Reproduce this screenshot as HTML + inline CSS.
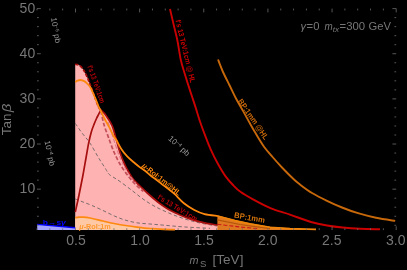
<!DOCTYPE html>
<html><head><meta charset="utf-8"><title>plot</title>
<style>
html,body{margin:0;padding:0;background:#000;}
body{width:407px;height:270px;overflow:hidden;position:relative;font-family:"Liberation Sans",sans-serif;}
svg{position:absolute;left:0;top:0;opacity:0.999;will-change:transform;}
text{font-family:"Liberation Sans",sans-serif;}
</style></head><body>
<svg width="407" height="270" viewBox="0 0 407 270">
<rect width="407" height="270" fill="#000"/>
<!-- fills -->
<path d="M75.2 229.9 L75.2 64.2 C75.6 64.3 76.7 64.3 77.5 64.6 C78.3 64.9 79.0 65.1 80.0 65.9 C81.0 66.7 82.1 67.8 83.2 69.4 C84.3 71.0 85.4 73.3 86.5 75.6 C87.6 77.9 88.7 80.8 89.7 83.4 C90.7 86.0 91.6 88.3 92.6 91.0 C93.6 93.7 94.6 96.7 95.6 99.3 C96.5 101.9 97.5 104.7 98.3 106.5 C99.1 108.3 100.1 109.6 100.5 110.2 C101.7 111.0 103.9 112.6 105.8 115.2 C107.7 117.8 110.4 121.8 112.1 125.7 C113.8 129.6 114.7 134.1 116.0 138.5 C117.3 142.9 118.4 147.7 119.8 151.9 C121.2 156.1 122.7 160.1 124.3 163.7 C125.9 167.3 127.8 170.6 129.4 173.3 C131.0 176.0 132.1 177.9 133.9 180.0 C135.7 182.1 137.7 183.8 140.0 186.0 C142.3 188.2 144.8 190.8 147.8 193.5 C150.8 196.2 154.6 199.5 157.8 202.0 C161.0 204.5 164.1 206.7 167.0 208.5 C169.9 210.3 171.2 211.0 175.0 212.7 C178.8 214.4 184.9 217.2 189.8 218.9 C194.7 220.6 200.0 221.9 204.6 222.9 C209.2 223.9 212.5 224.4 217.6 225.2 C222.7 226.0 227.9 226.9 235.0 227.5 C242.1 228.1 255.8 228.8 260.0 229.0 L260 229.9 L75.2 229.9 Z" fill="#ffb3b3"/>
<path d="M75.2 217.8 C75.8 217.7 77.7 217.3 79.0 217.2 C80.3 217.1 81.2 217.1 83.0 217.2 C84.8 217.3 86.7 217.4 90.0 218.0 C93.3 218.6 99.0 220.1 103.0 221.0 C107.0 221.9 110.2 222.8 114.0 223.5 C117.8 224.2 121.7 224.9 125.5 225.5 C129.3 226.1 132.9 226.6 137.0 227.1 C141.1 227.6 146.2 228.2 150.0 228.5 C153.8 228.8 155.8 229.0 160.0 229.2 C164.2 229.4 172.5 229.6 175.0 229.7 L200 229.9 L75.2 229.9 Z" fill="#ffc9a6"/>
<path d="M217.4,215.2 L235.0,219.9 L250.0,223.2 L270.0,226.7 L290.0,228.3 L316.0,229.9 L217.4,229.9 Z" fill="#e07a22"/>
<path d="M217.4 216.0 L235 220.6 L250 223.9 L270 227.3 L290 228.7 L316 229.4" fill="none" stroke="#f0860c" stroke-width="1.8"/>
<path d="M217.4 219.9 L240 224.5 L270 228.7" fill="none" stroke="#b4560a" stroke-width="1.2"/>
<path d="M217.4 224.2 L240 227 L258.7 228.7" fill="none" stroke="#cc1a1a" stroke-width="1.1" stroke-dasharray="4 2"/>
<path d="M37.2 224.4 L75.2 227.6 L75.2 229.9 L37.2 229.9 Z" fill="#a3a3ff"/>
<!-- gray dashed contours -->
<g fill="none" stroke="#5a5a5a" stroke-width="0.8" stroke-dasharray="3.5 2.5">
<path d="M75.3 123.4 C76.4 125.0 79.6 129.8 82.0 133.0 C84.4 136.2 87.0 138.6 89.8 142.8 C92.6 147.1 96.3 154.1 99.0 158.5 C101.7 162.9 104.4 166.9 106.0 169.5 C107.6 172.1 107.5 172.7 108.7 173.9 C109.9 175.2 111.1 175.7 113.0 177.0 C114.9 178.3 116.8 179.2 120.0 181.5 C123.2 183.8 128.2 187.6 132.0 190.5 C135.8 193.4 139.2 196.3 143.0 199.0 C146.8 201.7 150.5 204.1 155.0 206.5 C159.5 208.9 165.0 211.4 170.0 213.5 C175.0 215.6 180.0 217.4 185.0 219.0 C190.0 220.6 194.7 221.8 200.0 223.0 C205.3 224.2 214.2 225.5 217.0 226.0"/>
<path d="M75.2 199.0 C76.5 199.5 80.2 200.9 83.0 202.0 C85.8 203.1 88.7 204.1 92.0 205.5 C95.3 206.9 99.3 208.8 103.0 210.5 C106.7 212.2 110.7 214.4 114.4 216.0 C118.1 217.6 121.3 218.9 125.0 220.0 C128.7 221.1 132.5 222.1 136.7 222.8 C140.9 223.5 145.3 223.6 150.0 224.0 C154.7 224.4 159.2 224.8 165.0 225.3 C170.8 225.8 177.5 226.5 185.0 227.0 C192.5 227.5 205.8 228.1 210.0 228.3"/>
</g>
<!-- dark red contours -->
<g fill="none" stroke="#a80f0f" stroke-width="1.7">
<path d="M75.2 64.2 C75.6 64.3 76.7 64.3 77.5 64.6 C78.3 64.9 79.0 65.1 80.0 65.9 C81.0 66.7 82.1 67.8 83.2 69.4 C84.3 71.0 85.4 73.3 86.5 75.6 C87.6 77.9 88.7 80.8 89.7 83.4 C90.7 86.0 91.6 88.3 92.6 91.0 C93.6 93.7 94.6 96.7 95.6 99.3 C96.5 101.9 97.5 104.7 98.3 106.5 C99.1 108.3 100.1 109.6 100.5 110.2" stroke-dasharray="3.5 1.5"/>
<path d="M75.3 212.0 C75.9 209.2 77.8 201.0 79.0 195.0 C80.2 189.0 81.6 182.2 82.8 176.0 C84.0 169.8 85.0 163.5 86.0 158.0 C87.0 152.5 87.8 147.1 88.7 142.8 C89.6 138.5 90.4 135.2 91.3 132.0 C92.2 128.8 93.3 126.2 94.2 123.9 C95.1 121.7 95.8 120.1 96.5 118.5 C97.2 116.9 98.0 115.6 98.7 114.2 C99.4 112.8 100.5 110.9 100.9 110.2 C101.7 111.0 103.9 112.6 105.8 115.2 C107.7 117.8 110.4 121.8 112.1 125.7 C113.8 129.6 114.7 134.1 116.0 138.5 C117.3 142.9 118.4 147.7 119.8 151.9 C121.2 156.1 122.7 160.1 124.3 163.7 C125.9 167.3 127.8 170.6 129.4 173.3 C131.0 176.0 132.1 177.9 133.9 180.0 C135.7 182.1 137.7 183.8 140.0 186.0 C142.3 188.2 144.8 190.8 147.8 193.5 C150.8 196.2 154.6 199.5 157.8 202.0 C161.0 204.5 164.1 206.7 167.0 208.5 C169.9 210.3 171.2 211.0 175.0 212.7 C178.8 214.4 184.9 217.2 189.8 218.9 C194.7 220.6 200.0 221.9 204.6 222.9 C209.2 223.9 215.4 224.8 217.6 225.2"/>
<path d="M100.9 111.0 C101.4 113.2 102.7 120.0 103.9 124.3 C105.1 128.6 107.4 134.3 108.3 136.9 C109.2 139.5 108.5 137.5 109.4 140.0 C110.3 142.5 112.2 148.0 113.9 151.9 C115.6 155.8 117.6 159.9 119.8 163.7 C122.0 167.5 124.7 171.4 127.2 174.8 C129.7 178.2 132.3 181.2 135.0 184.0 C137.7 186.8 141.9 190.2 143.3 191.5" stroke="#c4505a" stroke-dasharray="4 2"/>
<path d="M108.0 122.0 C108.5 123.5 110.0 128.0 111.0 131.0 C112.0 134.0 112.7 136.3 113.9 140.0 C115.1 143.7 116.8 149.4 118.3 153.3 C119.8 157.2 121.1 160.2 122.8 163.7 C124.5 167.1 126.5 170.7 128.7 174.0 C130.9 177.3 134.8 181.9 136.0 183.5" stroke="#e07888" stroke-width="1.1" stroke-dasharray="4 2"/>
</g>
<!-- orange -->
<g fill="none" stroke="#ff8a10" stroke-width="1.8">
<path d="M75.2 82.0 C75.6 81.8 76.7 81.0 77.5 80.7 C78.3 80.4 79.3 80.0 80.2 80.0 C81.1 80.0 82.1 80.2 83.0 80.6 C83.9 81.0 84.9 81.5 85.8 82.2 C86.7 82.9 87.8 84.1 88.6 85.0 C89.4 85.9 89.9 86.5 90.6 87.8 C91.3 89.0 91.9 90.5 92.8 92.5 C93.7 94.5 94.8 97.2 95.8 99.5 C96.8 101.8 97.8 104.7 98.6 106.5 C99.4 108.3 99.7 108.6 100.7 110.6 C101.7 112.6 103.0 115.7 104.4 118.5 C105.8 121.3 107.7 124.3 109.2 127.2 C110.7 130.1 112.3 133.8 113.6 136.0 C114.8 138.2 115.4 138.3 116.7 140.5 C118.0 142.7 119.5 146.3 121.3 148.9 C123.0 151.5 125.0 154.0 127.2 156.3 C129.4 158.7 132.5 161.2 134.6 163.0 C136.7 164.8 138.3 166.1 140.0 167.4 C141.7 168.7 143.3 169.5 145.0 170.8 C146.7 172.1 147.5 173.0 150.0 175.0 C152.5 177.0 156.7 180.0 160.0 182.6 C163.3 185.2 167.5 188.3 170.0 190.3 C172.5 192.3 172.7 192.2 175.0 194.4 C177.3 196.6 180.7 200.7 183.9 203.3 C187.1 205.9 190.9 208.2 194.3 210.0 C197.8 211.8 200.7 213.2 204.6 214.2 C208.5 215.2 215.4 215.7 217.6 216.0"/>
<path d="M75.2 217.8 C75.8 217.7 77.7 217.3 79.0 217.2 C80.3 217.1 81.2 217.1 83.0 217.2 C84.8 217.3 86.7 217.4 90.0 218.0 C93.3 218.6 99.0 220.1 103.0 221.0 C107.0 221.9 110.2 222.8 114.0 223.5 C117.8 224.2 121.7 224.9 125.5 225.5 C129.3 226.1 132.9 226.6 137.0 227.1 C141.1 227.6 146.2 228.2 150.0 228.5 C153.8 228.8 155.8 229.0 160.0 229.2 C164.2 229.4 172.5 229.6 175.0 229.7" stroke-width="1.7"/>
</g>
<path d="M37.2 224.4 L75.2 227.7" fill="none" stroke="#0000ff" stroke-width="1.4"/>
<!-- red HL and BP HL -->
<path d="M170.0 9.0 C170.6 11.5 172.3 18.8 173.5 24.0 C174.7 29.2 176.1 34.0 177.3 40.0 C178.5 46.0 179.7 54.7 180.8 60.0 C182.0 65.3 183.0 68.1 184.2 72.0 C185.4 75.9 186.5 79.5 187.8 83.6 C189.1 87.7 190.6 92.3 192.0 96.5 C193.4 100.7 194.8 104.7 196.0 108.6 C197.2 112.5 198.1 115.8 199.5 120.0 C200.9 124.2 202.5 128.7 204.4 133.6 C206.3 138.5 208.5 144.6 210.8 149.7 C213.1 154.8 215.5 159.6 218.0 164.0 C220.5 168.4 223.1 172.9 225.6 176.4 C228.1 179.9 230.5 182.4 233.0 185.0 C235.5 187.6 236.9 189.2 240.4 191.7 C243.9 194.2 248.8 197.0 253.9 199.8 C259.0 202.6 265.0 205.9 271.0 208.4 C277.0 210.9 283.3 212.3 290.0 214.6 C296.7 216.9 304.8 220.2 311.0 222.0 C317.2 223.8 321.8 224.6 327.0 225.5 C332.2 226.4 337.0 227.0 342.5 227.5 C348.0 228.0 353.8 228.4 360.0 228.7 C366.2 229.0 376.7 229.2 380.0 229.3" fill="none" stroke="#cc0000" stroke-width="1.9"/>
<path d="M218.0 59.5 C218.8 61.6 221.1 67.8 223.0 72.0 C224.9 76.2 227.2 80.6 229.4 85.0 C231.6 89.4 233.7 94.1 236.0 98.5 C238.3 102.9 241.0 107.2 243.3 111.4 C245.6 115.6 247.9 119.8 250.0 123.5 C252.1 127.2 253.5 129.7 255.8 133.6 C258.1 137.5 261.1 142.7 264.0 146.7 C266.9 150.7 270.0 154.0 273.0 157.5 C276.0 161.0 278.5 163.8 282.0 167.5 C285.5 171.2 291.0 176.7 294.0 179.5 C297.0 182.3 297.0 182.2 300.0 184.5 C303.0 186.8 307.5 190.3 312.0 193.0 C316.5 195.7 322.0 198.4 327.0 200.8 C332.0 203.2 336.8 205.4 342.0 207.5 C347.2 209.6 352.3 211.5 358.0 213.2 C363.7 214.9 369.8 216.5 376.0 217.8 C382.2 219.1 392.0 220.4 395.2 220.9" fill="none" stroke="#c8690c" stroke-width="1.9"/>
<!-- ticks -->
<g stroke="#6e6e6e" stroke-width="0.8" fill="none"><line x1="37.00" y1="230.10" x2="37.00" y2="228.30"/><line x1="37.00" y1="8.60" x2="37.00" y2="10.40"/><line x1="49.83" y1="230.10" x2="49.83" y2="228.30"/><line x1="49.83" y1="8.60" x2="49.83" y2="10.40"/><line x1="62.66" y1="230.10" x2="62.66" y2="228.30"/><line x1="62.66" y1="8.60" x2="62.66" y2="10.40"/><line x1="75.49" y1="230.10" x2="75.49" y2="228.20"/><line x1="75.49" y1="8.60" x2="75.49" y2="12.40"/><line x1="88.31" y1="230.10" x2="88.31" y2="228.20"/><line x1="88.31" y1="8.60" x2="88.31" y2="10.40"/><line x1="101.14" y1="230.10" x2="101.14" y2="228.20"/><line x1="101.14" y1="8.60" x2="101.14" y2="10.40"/><line x1="113.97" y1="230.10" x2="113.97" y2="228.20"/><line x1="113.97" y1="8.60" x2="113.97" y2="10.40"/><line x1="126.80" y1="230.10" x2="126.80" y2="228.20"/><line x1="126.80" y1="8.60" x2="126.80" y2="10.40"/><line x1="139.63" y1="230.10" x2="139.63" y2="228.20"/><line x1="139.63" y1="8.60" x2="139.63" y2="12.40"/><line x1="152.46" y1="230.10" x2="152.46" y2="228.20"/><line x1="152.46" y1="8.60" x2="152.46" y2="10.40"/><line x1="165.29" y1="230.10" x2="165.29" y2="228.20"/><line x1="165.29" y1="8.60" x2="165.29" y2="10.40"/><line x1="178.11" y1="230.10" x2="178.11" y2="228.20"/><line x1="178.11" y1="8.60" x2="178.11" y2="10.40"/><line x1="190.94" y1="230.10" x2="190.94" y2="228.20"/><line x1="190.94" y1="8.60" x2="190.94" y2="10.40"/><line x1="203.77" y1="230.10" x2="203.77" y2="228.20"/><line x1="203.77" y1="8.60" x2="203.77" y2="12.40"/><line x1="216.60" y1="230.10" x2="216.60" y2="228.20"/><line x1="216.60" y1="8.60" x2="216.60" y2="10.40"/><line x1="229.43" y1="230.10" x2="229.43" y2="228.20"/><line x1="229.43" y1="8.60" x2="229.43" y2="10.40"/><line x1="242.26" y1="230.10" x2="242.26" y2="228.20"/><line x1="242.26" y1="8.60" x2="242.26" y2="10.40"/><line x1="255.09" y1="230.10" x2="255.09" y2="228.20"/><line x1="255.09" y1="8.60" x2="255.09" y2="10.40"/><line x1="267.91" y1="230.10" x2="267.91" y2="228.20"/><line x1="267.91" y1="8.60" x2="267.91" y2="12.40"/><line x1="280.74" y1="230.10" x2="280.74" y2="228.20"/><line x1="280.74" y1="8.60" x2="280.74" y2="10.40"/><line x1="293.57" y1="230.10" x2="293.57" y2="228.20"/><line x1="293.57" y1="8.60" x2="293.57" y2="10.40"/><line x1="306.40" y1="230.10" x2="306.40" y2="228.20"/><line x1="306.40" y1="8.60" x2="306.40" y2="10.40"/><line x1="319.23" y1="230.10" x2="319.23" y2="228.20"/><line x1="319.23" y1="8.60" x2="319.23" y2="10.40"/><line x1="332.06" y1="230.10" x2="332.06" y2="226.30"/><line x1="332.06" y1="8.60" x2="332.06" y2="12.40"/><line x1="344.89" y1="230.10" x2="344.89" y2="228.30"/><line x1="344.89" y1="8.60" x2="344.89" y2="10.40"/><line x1="357.71" y1="230.10" x2="357.71" y2="228.30"/><line x1="357.71" y1="8.60" x2="357.71" y2="10.40"/><line x1="370.54" y1="230.10" x2="370.54" y2="228.30"/><line x1="370.54" y1="8.60" x2="370.54" y2="10.40"/><line x1="383.37" y1="230.10" x2="383.37" y2="228.30"/><line x1="383.37" y1="8.60" x2="383.37" y2="10.40"/><line x1="396.20" y1="230.10" x2="396.20" y2="226.30"/><line x1="396.20" y1="8.60" x2="396.20" y2="12.40"/><line x1="37.00" y1="225.29" x2="38.80" y2="225.29"/><line x1="396.20" y1="225.29" x2="394.40" y2="225.29"/><line x1="37.00" y1="216.26" x2="38.80" y2="216.26"/><line x1="396.20" y1="216.26" x2="394.40" y2="216.26"/><line x1="37.00" y1="207.23" x2="38.80" y2="207.23"/><line x1="396.20" y1="207.23" x2="394.40" y2="207.23"/><line x1="37.00" y1="198.20" x2="38.80" y2="198.20"/><line x1="396.20" y1="198.20" x2="394.40" y2="198.20"/><line x1="37.00" y1="189.17" x2="40.80" y2="189.17"/><line x1="396.20" y1="189.17" x2="392.40" y2="189.17"/><line x1="37.00" y1="180.14" x2="38.80" y2="180.14"/><line x1="396.20" y1="180.14" x2="394.40" y2="180.14"/><line x1="37.00" y1="171.11" x2="38.80" y2="171.11"/><line x1="396.20" y1="171.11" x2="394.40" y2="171.11"/><line x1="37.00" y1="162.09" x2="38.80" y2="162.09"/><line x1="396.20" y1="162.09" x2="394.40" y2="162.09"/><line x1="37.00" y1="153.06" x2="38.80" y2="153.06"/><line x1="396.20" y1="153.06" x2="394.40" y2="153.06"/><line x1="37.00" y1="144.03" x2="40.80" y2="144.03"/><line x1="396.20" y1="144.03" x2="392.40" y2="144.03"/><line x1="37.00" y1="135.00" x2="38.80" y2="135.00"/><line x1="396.20" y1="135.00" x2="394.40" y2="135.00"/><line x1="37.00" y1="125.97" x2="38.80" y2="125.97"/><line x1="396.20" y1="125.97" x2="394.40" y2="125.97"/><line x1="37.00" y1="116.94" x2="38.80" y2="116.94"/><line x1="396.20" y1="116.94" x2="394.40" y2="116.94"/><line x1="37.00" y1="107.91" x2="38.80" y2="107.91"/><line x1="396.20" y1="107.91" x2="394.40" y2="107.91"/><line x1="37.00" y1="98.89" x2="40.80" y2="98.89"/><line x1="396.20" y1="98.89" x2="392.40" y2="98.89"/><line x1="37.00" y1="89.86" x2="38.80" y2="89.86"/><line x1="396.20" y1="89.86" x2="394.40" y2="89.86"/><line x1="37.00" y1="80.83" x2="38.80" y2="80.83"/><line x1="396.20" y1="80.83" x2="394.40" y2="80.83"/><line x1="37.00" y1="71.80" x2="38.80" y2="71.80"/><line x1="396.20" y1="71.80" x2="394.40" y2="71.80"/><line x1="37.00" y1="62.77" x2="38.80" y2="62.77"/><line x1="396.20" y1="62.77" x2="394.40" y2="62.77"/><line x1="37.00" y1="53.74" x2="40.80" y2="53.74"/><line x1="396.20" y1="53.74" x2="392.40" y2="53.74"/><line x1="37.00" y1="44.71" x2="38.80" y2="44.71"/><line x1="396.20" y1="44.71" x2="394.40" y2="44.71"/><line x1="37.00" y1="35.69" x2="38.80" y2="35.69"/><line x1="396.20" y1="35.69" x2="394.40" y2="35.69"/><line x1="37.00" y1="26.66" x2="38.80" y2="26.66"/><line x1="396.20" y1="26.66" x2="394.40" y2="26.66"/><line x1="37.00" y1="17.63" x2="38.80" y2="17.63"/><line x1="396.20" y1="17.63" x2="394.40" y2="17.63"/><line x1="37.00" y1="8.60" x2="40.80" y2="8.60"/><line x1="396.20" y1="8.60" x2="392.40" y2="8.60"/></g>
<!-- labels -->
<g fill="#787878" font-size="14px">
<text x="35.2" y="12.8" text-anchor="end">50</text>
<text x="35.2" y="57.8" text-anchor="end">40</text>
<text x="35.2" y="102.8" text-anchor="end">30</text>
<text x="35.2" y="147.8" text-anchor="end">20</text>
<text x="35.2" y="192.8" text-anchor="end">10</text>
<text x="76" y="244.5" text-anchor="middle">0.5</text>
<text x="140" y="244.5" text-anchor="middle">1.0</text>
<text x="204" y="244.5" text-anchor="middle">1.5</text>
<text x="267.8" y="244.5" text-anchor="middle">2.0</text>
<text x="331.8" y="244.5" text-anchor="middle">2.5</text>
<text x="395.7" y="244.5" text-anchor="middle">3.0</text>
<text x="189.6" y="264.3" font-style="italic" font-size="10.8px" textLength="9" lengthAdjust="spacingAndGlyphs">m</text>
<text x="200.1" y="266.8" font-size="9px" textLength="6.4" lengthAdjust="spacingAndGlyphs">S</text>
<text x="212.6" y="264.3" font-size="12.6px" textLength="30.8" lengthAdjust="spacingAndGlyphs">[TeV]</text>
<text transform="translate(11.3,135.2) rotate(-90)" font-size="12.6px" textLength="21.6" lengthAdjust="spacingAndGlyphs">Tan</text>
<text transform="translate(11.3,112.3) rotate(-90)" font-style="italic" font-size="13px" textLength="8.6" lengthAdjust="spacingAndGlyphs">β</text>
<g font-size="11.2px">
<text x="300.6" y="30.2" font-style="italic">γ</text>
<text x="306.6" y="30.2" textLength="12.9" lengthAdjust="spacingAndGlyphs">=0</text>
<text x="324.5" y="30.2" font-style="italic" textLength="8.2" lengthAdjust="spacingAndGlyphs">m</text>
<text x="332.8" y="32.2" font-size="7.8px" font-style="italic" textLength="6.4" lengthAdjust="spacingAndGlyphs">tx</text>
<text x="339.6" y="30.2" textLength="25.6" lengthAdjust="spacingAndGlyphs">=300</text>
<text x="368.5" y="30.2" textLength="22.5" lengthAdjust="spacingAndGlyphs">GeV</text>
</g>
</g>
<g font-size="8px" fill="#9a9a9a">
<text transform="translate(51,18) rotate(80)">10<tspan font-size="5px" dy="-2.5">−6</tspan><tspan dy="2.5"> pb</tspan></text>
<text transform="translate(44.6,141.3) rotate(78)">10<tspan font-size="5px" dy="-2.5">−4</tspan><tspan dy="2.5"> pb</tspan></text>
<text transform="translate(167.8,139.2) rotate(42)">10<tspan font-size="5px" dy="-2.5">−4</tspan><tspan dy="2.5"> pb</tspan></text>
</g>
<g font-size="7.5px" font-weight="bold">
<text transform="translate(87.3,66.4) rotate(70.5)" fill="#b8000a" textLength="39.5" lengthAdjust="spacingAndGlyphs">f's 13 TeV:1cm</text>
<text transform="translate(157,198.6) rotate(31)" fill="#b8000a" textLength="45" lengthAdjust="spacingAndGlyphs">f's 13 TeV:1cm</text>
<text transform="translate(175.4,20.6) rotate(76.5)" fill="#cc0000" textLength="64.5" lengthAdjust="spacingAndGlyphs">f's 13 TeV:1cm @ HL</text>
<text transform="translate(237.6,101.2) rotate(55.5)" fill="#c8690c" font-size="8px" textLength="47.5" lengthAdjust="spacingAndGlyphs">BP:1mm @HL</text>
<text transform="translate(233.8,217.6) rotate(10)" fill="#d4740e" font-size="8px" textLength="31" lengthAdjust="spacingAndGlyphs">BP:1mm</text>
<text transform="translate(141.6,166.6) rotate(38.5)" fill="#ff8a10" textLength="47" lengthAdjust="spacingAndGlyphs"><tspan font-style="italic">μ</tspan>-RoI:1m@HL</text>
<text x="79.3" y="228.7" fill="#ff9a30" textLength="31.5" lengthAdjust="spacingAndGlyphs"><tspan font-style="italic">μ</tspan>-RoI:1m</text>
<text x="42.8" y="225.1" fill="#0000ff" font-size="7.5px" textLength="23" lengthAdjust="spacingAndGlyphs">b→s<tspan font-style="italic">γ</tspan></text>
</g>
</svg>
</body></html>
